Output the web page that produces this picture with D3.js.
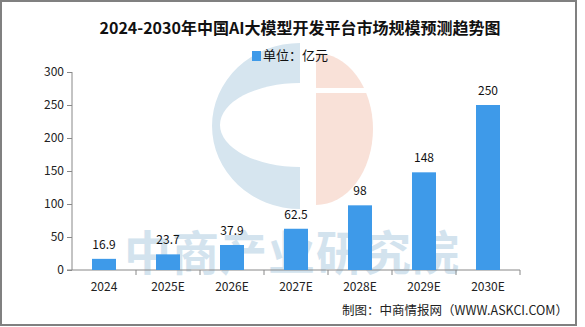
<!DOCTYPE html>
<html><head><meta charset="utf-8">
<script src="https://cdn.jsdelivr.net/npm/d3@7"></script>
<style>body{margin:0;background:#fff}svg{display:block}</style>
</head><body>
<script>
const categories = ["2024","2025E","2026E","2027E","2028E","2029E","2030E"];
const values = [16.9,23.7,37.9,62.5,98,148,250];
const valueLabels = ["16.9","23.7","37.9","62.5","98","148","250"];
const yTicks = [0,50,100,150,200,250,300];
const title = "2024-2030年中国AI大模型开发平台市场规模预测趋势图";
const legendLabel = "单位：亿元";
const source = "制图：中商情报网（WWW.ASKCI.COM）";
const watermark = "中商产业研究院";

const W=585,H=327;
const svg=d3.select("body").append("svg").attr("width",W).attr("height",H);
const cjk="'Noto Sans CJK SC','Noto Sans',sans-serif";
const mono="'SimSun','Noto Sans CJK SC','DejaVu Sans',sans-serif";

// watermark logo
const logo=svg.append("g");
const cx=304, cy=126;
logo.append("path").attr("d",`M300,43 A88,83 0 0 0 300,209 Z`).attr("fill","#d6e5ef");
logo.append("path").attr("d",`M300,83 A80,42 0 0 0 300,167 Z`).attr("fill","#fff");
logo.append("path").attr("d",`M316,53 A57,76 0 0 1 316,205 Z`).attr("fill","#f9e1d8");
logo.append("rect").attr("x",316).attr("y",88).attr("width",56).attr("height",5).attr("fill","#fff");
svg.append("text").attr("x",292).attr("y",270).attr("text-anchor","middle")
  .attr("font-family",cjk).attr("font-weight","bold").attr("font-size",47)
  .attr("fill","#d3e3ee").attr("letter-spacing",1).text(watermark);

const x=d3.scaleBand().domain(categories).range([72,520]).paddingInner(0.625).paddingOuter(0.3125);
const y=d3.scaleLinear().domain([0,300]).range([270,72]);

// axes
const yAxis=svg.append("g").attr("transform","translate(72,0)")
  .call(d3.axisLeft(y).tickValues(yTicks).tickSize(5).tickPadding(3));
yAxis.selectAll("path,line").attr("stroke","#888");
yAxis.select(".domain").attr("d","M0,72V270");
yAxis.selectAll("text").attr("font-family",mono).attr("font-size",12).attr("fill","#222");

const xAxis=svg.append("g").attr("transform","translate(0,270)")
  .call(d3.axisBottom(x).tickSize(0).tickPadding(12));
xAxis.select(".domain").attr("stroke","#888").attr("d","M67,0H520");
xAxis.selectAll("text").attr("font-family",mono).attr("font-size",12).attr("fill","#222");
const bounds=categories.map((c,i)=>x(c)-x.step()*x.paddingOuter()+x.step()*(1) );
svg.append("g").selectAll("line").data(categories).join("line")
  .attr("x1",d=>x(d)+x.bandwidth()/2+x.step()/2).attr("x2",d=>x(d)+x.bandwidth()/2+x.step()/2)
  .attr("y1",270).attr("y2",275).attr("stroke","#888");

// bars
svg.append("g").selectAll("rect").data(values).join("rect")
  .attr("x",(d,i)=>x(categories[i])).attr("width",x.bandwidth())
  .attr("y",d=>y(d)).attr("height",d=>y(0)-y(d)).attr("fill","#3e9ae9");
svg.append("g").selectAll("text").data(values).join("text")
  .attr("x",(d,i)=>x(categories[i])+x.bandwidth()/2).attr("y",d=>y(d)-10)
  .attr("text-anchor","middle").attr("font-family",mono).attr("font-size",12).attr("fill","#111")
  .text((d,i)=>valueLabels[i]);

// title & legend
svg.append("text").attr("x",300).attr("y",34).attr("text-anchor","middle")
  .attr("font-family",cjk).attr("font-weight","bold").attr("font-size",16).attr("fill","#111").text(title);
svg.append("rect").attr("x",252).attr("y",51).attr("width",9).attr("height",10).attr("fill","#3e9ae9");
svg.append("text").attr("x",263).attr("y",60).attr("font-family",cjk).attr("font-size",13).attr("fill","#111").text(legendLabel);

svg.append("text").attr("x",568).attr("y",315).attr("text-anchor","end")
  .attr("font-family",cjk).attr("font-size",12.5).attr("fill","#222").text(source);

// frame
svg.append("rect").attr("x",1).attr("y",1).attr("width",575).attr("height",324)
  .attr("fill","none").attr("stroke","#808080").attr("stroke-width",2);
</script>
</body></html>
